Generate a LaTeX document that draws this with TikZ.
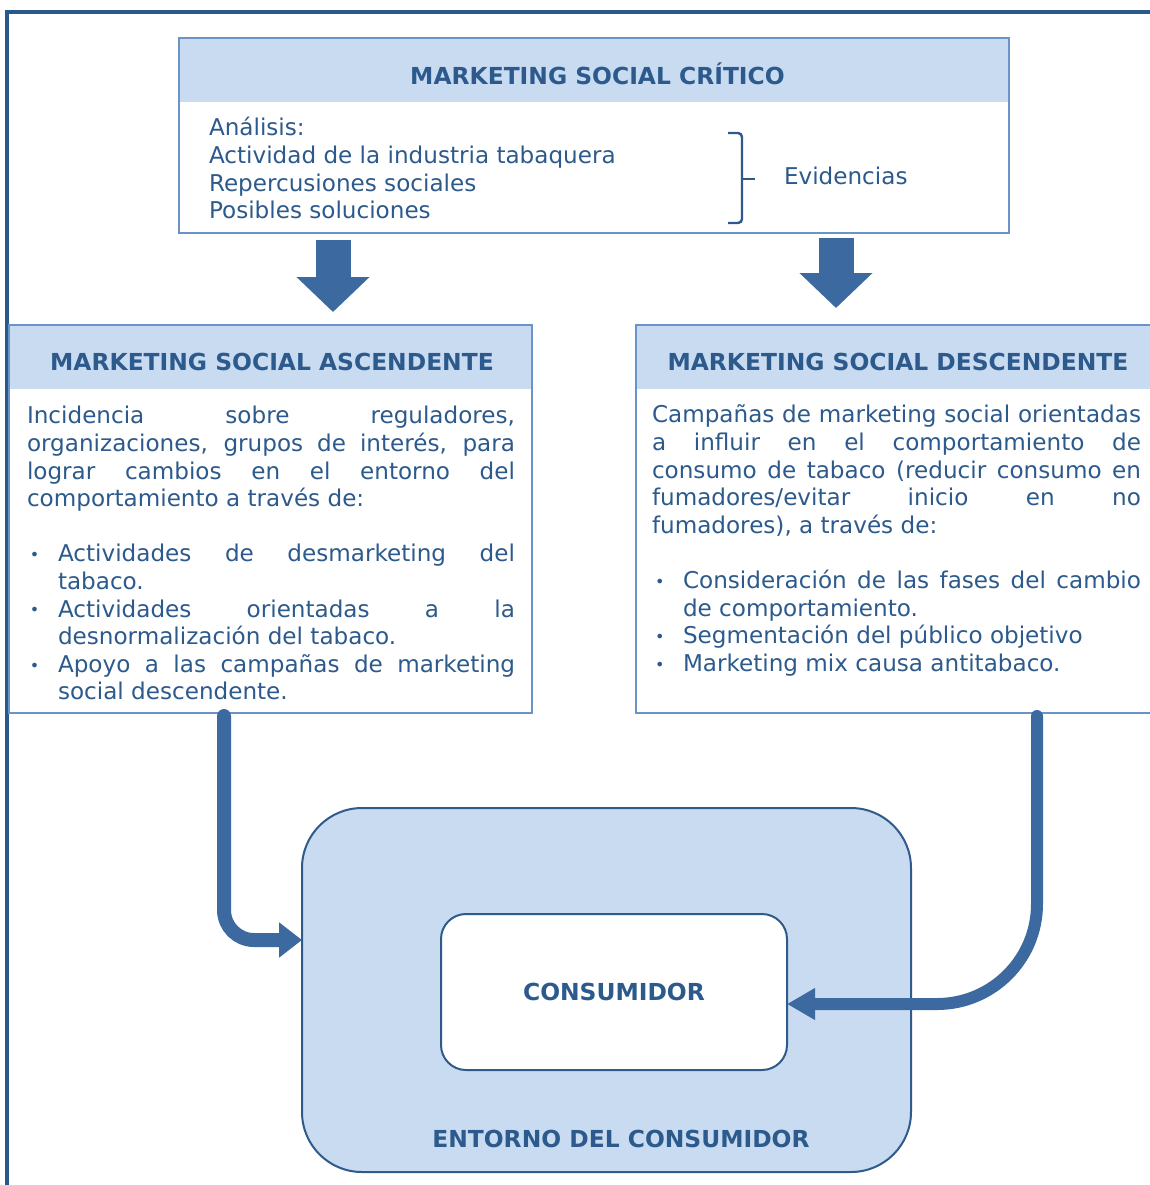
\documentclass[tikz,border=0pt]{standalone}
\usepackage{fontspec}
\setmainfont{DejaVu Sans}
\usetikzlibrary{arrows.meta,calc}

\definecolor{hdrfill}{HTML}{C9DBF1}
\definecolor{boxline}{HTML}{6A93C7}
\definecolor{ink}{HTML}{2D5A8C}
\definecolor{arrowc}{HTML}{3C6AA0}
\definecolor{framec}{HTML}{28598C}
\definecolor{roundline}{HTML}{2F5A8A}

\newcommand\bodyfont{\fontsize{11.55}{13.8}\selectfont}
\newcommand\titlefont{\fontsize{11.7}{13.8}\selectfont\bfseries}
\newcommand\bul{\par\hangindent=15.5pt\hangafter=1\noindent\makebox[15.5pt][l]{\hspace{1.5pt}\raisebox{0.6pt}{\fontsize{8}{8}\selectfont •}}}

\tikzset{
  hdr/.style={fill=hdrfill, draw=none},
  boxed/.style={draw=boxline, line width=1.25pt, fill=none},
  titletext/.style={font=\titlefont},
  bodytext/.style={font=\bodyfont, align=justify, anchor=north west},
  blockarrow/.style={arrowc, line width=17.5pt, -{Triangle[length=17.5pt,width=35.5pt]}},
  flow/.style={arrowc, line width=7pt, line cap=round},
  roundbox/.style={draw=roundline, line width=1pt}
}

\begin{document}
\begin{tikzpicture}[x=0.5pt, y=-0.5pt,
  every node/.style={text=ink, inner sep=0pt, outer sep=0pt}]
\clip (0,0) rectangle (1150,1185);
\fill[white] (0,0) rectangle (1150,1185);

% outer frame
\draw[framec, line width=2pt] (7,1200) -- (7,12) -- (1170,12);

% critical social marketing
\node[hdr, minimum width=415pt, minimum height=32pt] (critH) at (594,70) {};
\node[boxed, minimum width=415pt, minimum height=97.5pt] (crit) at (594,135.5) {};
\node[titletext] (critT) at (597.5,73.5) {MARKETING SOCIAL CRÍTICO};
\node[font=\bodyfont, align=left, anchor=north west] (critB) at (209,116.5)
  {\strut Análisis:\\Actividad de la industria tabaquera\\Repercusiones sociales\\Posibles soluciones};
\draw[ink, line width=1.2pt, rounded corners=2pt]
  (728,133) -- (742,133) -- (742,223) -- (728,223);
\draw[ink, line width=1.2pt] (742,179) -- (755,179);
\node[font=\bodyfont, anchor=west] (evid) at (784,176) {Evidencias};

% upstream social marketing
\node[hdr, minimum width=261.5pt, minimum height=32pt] (ascH) at (270.5,357) {};
\node[boxed, minimum width=261.5pt, minimum height=194pt] (asc) at (270.5,519) {};
\node[titletext] (ascT) at (272,362) {MARKETING SOCIAL ASCENDENTE};
\node[bodytext, text width=244pt] (ascB) at (27,404.5) {\parindent=0pt
  \strut Incidencia sobre reguladores,\linebreak
  organizaciones, grupos de interés, para\linebreak
  lograr cambios en el entorno del\linebreak
  comportamiento a través de:\par
  \mbox{}\par
  \bul Actividades de desmarketing del\linebreak tabaco.
  \bul Actividades orientadas a la\linebreak desnormalización del tabaco.
  \bul Apoyo a las campañas de marketing\linebreak social descendente.\par};

% downstream social marketing
\node[hdr, minimum width=262pt, minimum height=32pt] (descH) at (898,357) {};
\node[boxed, minimum width=262pt, minimum height=194pt] (desc) at (898,519) {};
\node[titletext] (descT) at (898,362) {MARKETING SOCIAL DESCENDENTE};
\node[bodytext, text width=244.5pt] (descB) at (652,403.5) {\parindent=0pt
  \strut Campañas de marketing social orientadas\linebreak
  a influir en el comportamiento de\linebreak
  consumo de tabaco (reducir consumo en\linebreak
  fumadores/evitar inicio en no\linebreak
  fumadores), a través de:\par
  \mbox{}\par
  \bul Consideración de las fases del cambio\linebreak de comportamiento.
  \bul Segmentación del público objetivo
  \bul Marketing mix causa antitabaco.\par};

% block arrows from the critical box
\coordinate (bl) at (333,0);
\coordinate (br) at (836,0);
\draw[blockarrow] ([yshift=-3.5pt]crit.south -| bl) -- ([yshift=6.5pt]asc.north -| bl);
\draw[blockarrow] ([yshift=-2.5pt]crit.south -| br) -- ([yshift=8.5pt]desc.north -| br);

% consumer environment
\node[roundbox, fill=hdrfill, rounded corners=30pt, minimum width=304.5pt, minimum height=182pt] (ent) at (606.5,990) {};
\node[titletext] (entT) at (621,1139) {ENTORNO DEL CONSUMIDOR};
\node[roundbox, fill=white, rounded corners=12.5pt, minimum width=173pt, minimum height=78pt, titletext] (cons) at (614,992) {CONSUMIDOR};

% connectors into the environment
\coordinate (l0) at (224,716);
\coordinate (r0) at (1037,716);
\draw[flow, rounded corners=15pt, -{Triangle[length=11.5pt,width=17pt]}]
  (l0) |- (ent.west |- 0,940);
\draw[flow, line width=6pt, rounded corners=50pt, -{Triangle[length=14pt,width=15pt]}]
  (r0) |- (cons.east |- 0,1004);
\end{tikzpicture}
\end{document}
